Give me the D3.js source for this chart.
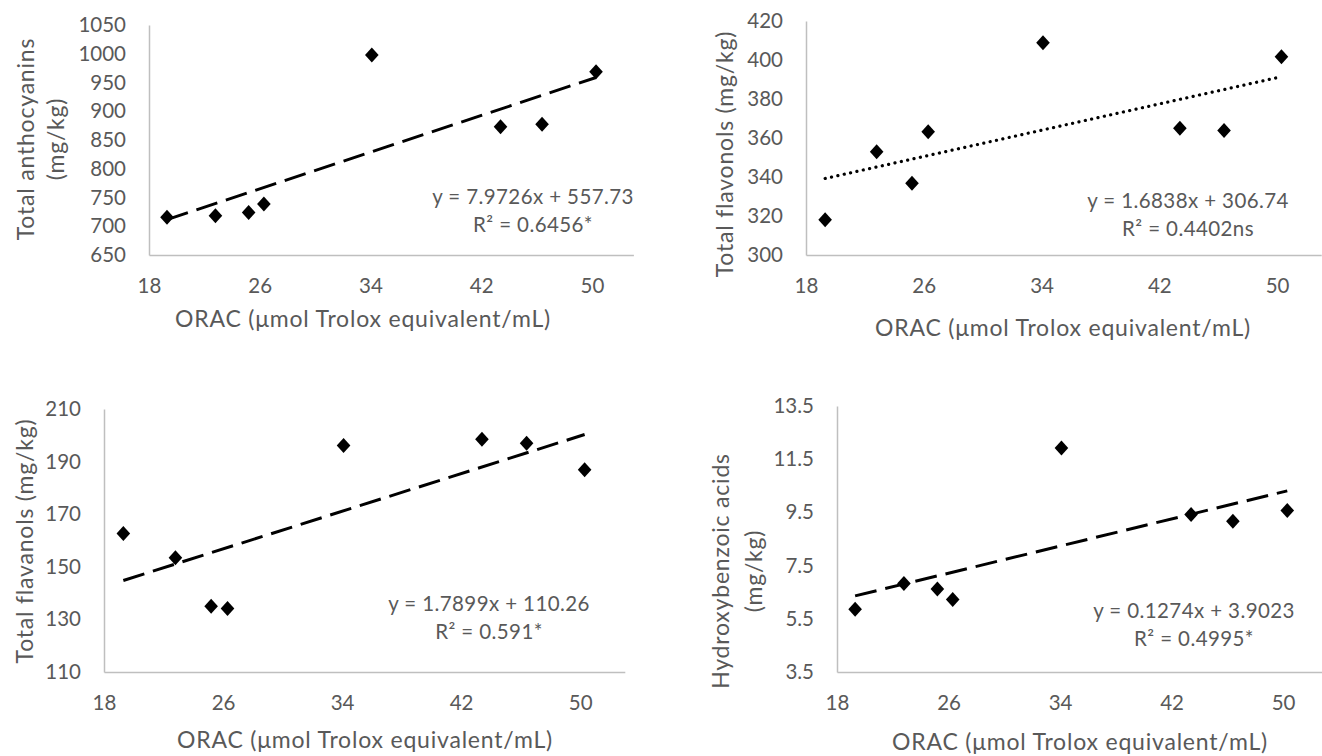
<!DOCTYPE html>
<html lang="en">
<head>
  <meta charset="UTF-8">
  <title>ORAC correlations</title>
  <style>
    body { margin: 0; background: #fff; }
    svg { display: block; }
    .tick text, .label { font-family: Lato, "Open Sans", sans-serif; fill: #595959; }
  </style>
</head>
<body>
  <div id="chart"></div>
  <script src="https://d3js.org/d3.v7.min.js"></script>
  <script>
    // values
    const orac = [19.3, 22.8, 25.2, 26.3, 34.1, 43.4, 46.4, 50.3]
    const anthocyanins = [715.5, 718.4, 724, 738.7, 997.8, 873.2, 877.2, 968.8]
    const flavonols = [318.1, 353, 336.8, 363.2, 408.9, 365, 363.8, 401.7]
    const flavanols = [162.7, 153.4, 135, 134.1, 196.1, 198.5, 197, 186.9]
    const hydroxybenzoic = [5.86, 6.83, 6.62, 6.23, 11.92, 9.42, 9.17, 9.57]

    const xTicks = [18, 26, 34, 42, 50]
    const yTicksAntho = [650, 700, 750, 800, 850, 900, 950, 1000, 1050]
    const yTicksFlavonols = [300, 320, 340, 360, 380, 400, 420]
    const yTicksFlavanols = [110, 130, 150, 170, 190, 210]
    const yTicksHydroxy = [3.5, 5.5, 7.5, 9.5, 11.5, 13.5]

    // trendline coefficients [slope, intercept]
    const fits = [[7.9726, 557.73], [1.6838, 306.74], [1.7899, 110.26], [0.1274, 3.9023]]
    const eqTexts = ['y = 7.9726x + 557.73', 'y = 1.6838x + 306.74', 'y = 1.7899x + 110.26', 'y = 0.1274x + 3.9023']
    const r2Texts = ['R² = 0.6456*', 'R² = 0.4402ns', 'R² = 0.591*', 'R² = 0.4995*']
    const yTitles = [['Total anthocyanins', '(mg/kg)'], ['Total flavonols (mg/kg)'], ['Total flavanols (mg/kg)'], ['Hydroxybenzoic acids', '(mg/kg)']]
    const xTitle = 'ORAC (μmol Trolox equivalent/mL)'

    const W = 1322, H = 756

    // layout for each panel
    const panels = [
      { y: anthocyanins, ticks: yTicksAntho, fmt: d3.format('d'), left: 149, unit: 13.84, top: 25, bottom: 255,
        dash: '22,9', eq: [533, 196], xt: [363, 318], yt: [25, 55], ytc: 139 },
      { y: flavonols, ticks: yTicksFlavonols, fmt: d3.format('d'), left: 806, unit: 14.72, top: 21, bottom: 255,
        dash: 'dot', eq: [1188, 200], xt: [1063, 327], yt: [724], ytc: 154 },
      { y: flavanols, ticks: yTicksFlavanols, fmt: d3.format('d'), left: 104, unit: 14.88, top: 409, bottom: 672,
        dash: '22,9', eq: [489, 603], xt: [365, 739], yt: [24], ytc: 541 },
      { y: hydroxybenzoic, ticks: yTicksHydroxy, fmt: d3.format('.1f'), left: 837, unit: 13.94, top: 406, bottom: 672,
        dash: '22,9', eq: [1194, 610], xt: [1080, 741], yt: [720, 753], ytc: 571 }
    ]

    let svg = d3.select('#chart').append('svg')
      .attr('width', W)
      .attr('height', H)

    panels.forEach((p, k) => {
      let xScale = d3.scaleLinear()
        .domain([18, 53])
        .range([p.left, p.left + 35 * p.unit])
      let yScale = d3.scaleLinear()
        .domain([p.ticks[0], p.ticks[p.ticks.length - 1]])
        .range([p.bottom, p.top])

      let g = svg.append('g')

      // axes
      let xAxis = g.append('g')
        .attr('transform', `translate(0, ${p.bottom})`)
        .call(d3.axisBottom(xScale).tickValues(xTicks).tickSize(0).tickPadding(23).tickFormat(d3.format('d')))
      let yAxis = g.append('g')
        .attr('transform', `translate(${p.left}, 0)`)
        .call(d3.axisLeft(yScale).tickValues(p.ticks).tickSize(0).tickPadding(23).tickFormat(p.fmt))
      ;[xAxis, yAxis].forEach(a => {
        a.select('.domain').attr('stroke', '#bfbfbf').attr('stroke-width', 1.5)
        a.selectAll('.tick text').style('font-size', '20.5px')
      })

      // trendline across the data range
      let f = fits[k]
      let xr = d3.extent(orac)
      let trend = g.append('line')
        .attr('x1', xScale(xr[0])).attr('y1', yScale(f[0] * xr[0] + f[1]))
        .attr('x2', xScale(xr[1])).attr('y2', yScale(f[0] * xr[1] + f[1]))
        .attr('stroke', '#000')
      if (p.dash === 'dot') {
        trend.attr('stroke-width', 3.2).attr('stroke-linecap', 'round').attr('stroke-dasharray', '0.1,6.4')
      } else {
        trend.attr('stroke-width', 3).attr('stroke-dasharray', p.dash)
      }

      // diamond markers
      g.selectAll('.pt')
        .data(orac.map((x, i) => [x, p.y[i]]))
        .enter()
        .append('path')
        .attr('class', 'pt')
        .attr('d', 'M0,-7.5L6.8,0L0,7.5L-6.8,0Z')
        .attr('fill', '#000')
        .attr('transform', d => `translate(${xScale(d[0])}, ${yScale(d[1])})`)

      // equation + R²
      g.append('text').attr('class', 'label')
        .attr('x', p.eq[0]).attr('y', p.eq[1])
        .attr('text-anchor', 'middle').attr('dominant-baseline', 'central')
        .style('font-size', '20.5px').style('letter-spacing', '0.4px')
        .text(eqTexts[k])
      g.append('text').attr('class', 'label')
        .attr('x', p.eq[0]).attr('y', p.eq[1] + 28)
        .attr('text-anchor', 'middle').attr('dominant-baseline', 'central')
        .style('font-size', '20.5px').style('letter-spacing', '0.4px')
        .text(r2Texts[k])

      // axis titles
      g.append('text').attr('class', 'label')
        .attr('x', p.xt[0]).attr('y', p.xt[1])
        .attr('text-anchor', 'middle').attr('dominant-baseline', 'central')
        .style('font-size', '23px').style('letter-spacing', '0.8px')
        .text(xTitle)

      yTitles[k].forEach((t, j) => {
        g.append('text').attr('class', 'label')
          .attr('transform', `translate(${p.yt[j]}, ${p.ytc}) rotate(-90)`)
          .attr('text-anchor', 'middle').attr('dominant-baseline', 'central')
          .style('font-size', '23px').style('letter-spacing', '0.8px')
          .text(t)
      })
    })
  </script>
</body>
</html>
